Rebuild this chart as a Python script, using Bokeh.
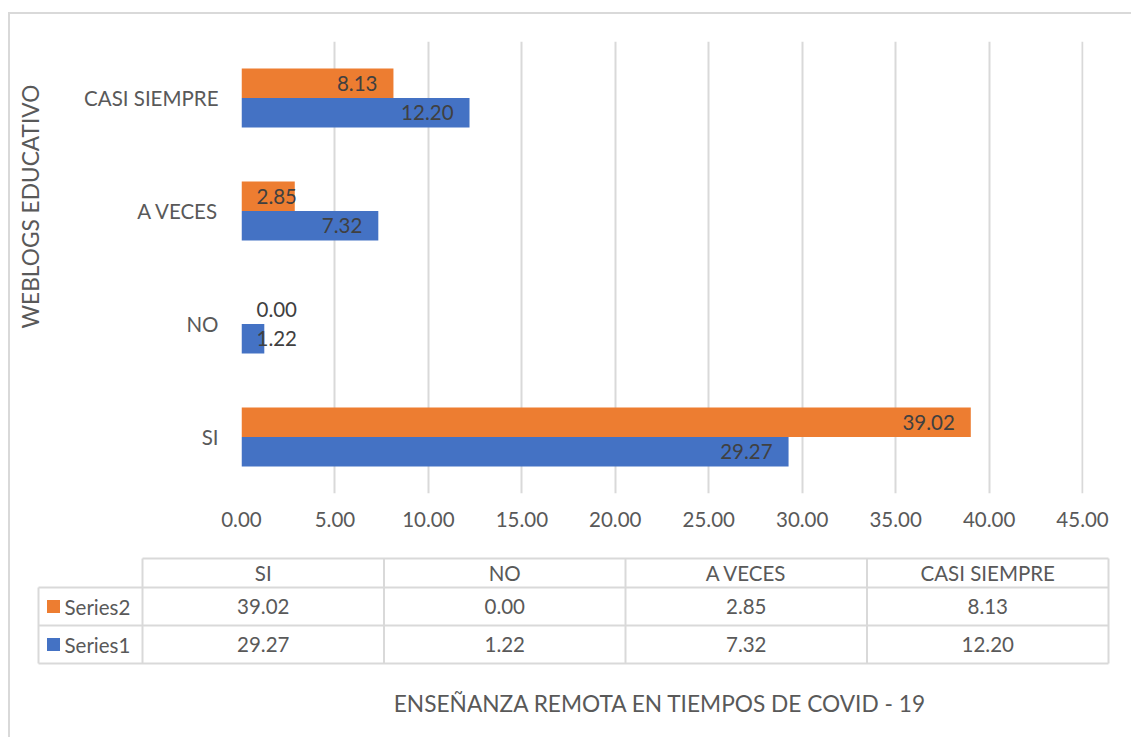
import math
from bokeh.plotting import figure
from bokeh.models import ColumnDataSource, FixedTicker, NumeralTickFormatter, FactorRange, Range1d
from bokeh.layouts import row
from bokeh.transform import dodge
from bokeh.core.properties import value
from bokeh.embed import file_html
from bokeh.resources import INLINE

categories = ["SI", "NO", "A VECES", "CASI SIEMPRE"]
series1 = [29.27, 1.22, 7.32, 12.20]
series2 = [39.02, 0.00, 2.85, 8.13]
series_names = ["Series1", "Series2"]
x_ticks = [0, 5, 10, 15, 20, 25, 30, 35, 40, 45]
x_title = "ENSEÑANZA REMOTA EN TIEMPOS DE COVID - 19"
y_title = "WEBLOGS EDUCATIVO"

ORANGE = "#ED7D31"
BLUE = "#4472C4"
GRID = "#D9D9D9"
AXTXT = "#595959"
LBLTXT = "#404040"
FONT = "Lato"
FS = "20.5px"
FS_TITLE = "22.7px"

H_TOP = 531
TITLE_W = 60
W_MAIN = 1061
W_ALL = TITLE_W + W_MAIN

# ---------------- y title strip ----------------
ys_fig = figure(width=TITLE_W, height=H_TOP, x_range=Range1d(10, 10 + TITLE_W),
                y_range=Range1d(493, 41), output_backend="svg", toolbar_location=None,
                min_border_left=0, min_border_right=0, min_border_top=27, min_border_bottom=52,
                x_axis_location=None, y_axis_location=None)
ys_fig.outline_line_color = None
ys_fig.grid.grid_line_color = None
ys_fig.text(x=[30], y=[206], text=[y_title], angle=math.pi / 2, text_align="center",
            text_baseline="middle", text_font=value(FONT), text_font_size=FS_TITLE,
            text_color=AXTXT)

# ---------------- chart ----------------
p = figure(width=W_MAIN, height=H_TOP, y_range=FactorRange(*categories, range_padding=0),
           x_range=Range1d(0, 45.05), output_backend="svg", toolbar_location=None,
           min_border_left=171, min_border_right=48, min_border_top=27, min_border_bottom=52)
p.outline_line_color = None
p.ygrid.grid_line_color = None
p.xgrid.grid_line_color = GRID
p.xgrid.grid_line_width = 2

src = ColumnDataSource(dict(cat=categories, s1=series1, s2=series2))
p.hbar(y=dodge("cat", 0.13, range=p.y_range), right="s2", left=0, height=0.26, source=src,
       fill_color=ORANGE, line_color=None)
p.hbar(y=dodge("cat", -0.13, range=p.y_range), right="s1", left=0, height=0.26, source=src,
       fill_color=BLUE, line_color=None)

# data labels: inside end, or near the base when the bar is too short
for vals, off in ((series2, 0.13), (series1, -0.13)):
    big = [i for i, v in enumerate(vals) if v >= 4]
    small = [i for i, v in enumerate(vals) if v < 4]
    sb = ColumnDataSource(dict(cat=[categories[i] for i in big], x=[vals[i] for i in big],
                               t=[f"{vals[i]:.2f}" for i in big]))
    ss = ColumnDataSource(dict(cat=[categories[i] for i in small], x=[0 for i in small],
                               t=[f"{vals[i]:.2f}" for i in small]))
    p.text(x="x", y=dodge("cat", off, range=p.y_range), text="t", source=sb, text_align="right",
           text_baseline="middle", x_offset=-16, text_font=value(FONT), text_font_size=FS,
           text_color=LBLTXT)
    p.text(x="x", y=dodge("cat", off, range=p.y_range), text="t", source=ss, text_align="left",
           text_baseline="middle", x_offset=15, text_font=value(FONT), text_font_size=FS,
           text_color=LBLTXT)

p.xaxis.ticker = FixedTicker(ticks=x_ticks)
p.xaxis.formatter = NumeralTickFormatter(format="0.00")
for ax in (p.xaxis[0], p.yaxis[0]):
    ax.axis_line_color = None
    ax.major_tick_line_color = None
    ax.minor_tick_line_color = None
    ax.major_tick_out = 0
    ax.minor_tick_out = 0
    ax.major_label_text_font = FONT
    ax.major_label_text_font_size = FS
    ax.major_label_text_color = AXTXT
p.xaxis.major_label_standoff = 18
p.yaxis.major_label_standoff = 23

top = row(ys_fig, p, spacing=0, margin=(12, 0, 0, 8),
          styles={"border-top": "2px solid #D9D9D9", "border-left": "2px solid #D9D9D9"})

# ---------------- data table ----------------
t = figure(width=W_ALL, height=192, x_range=Range1d(10, 10 + W_ALL), y_range=Range1d(545 + 192, 545),
           output_backend="svg", toolbar_location=None, min_border=0,
           x_axis_location=None, y_axis_location=None)
t.outline_line_color = None
t.grid.grid_line_color = None
t.margin = (0, 0, 0, 8)
t.styles = {"border-left": "2px solid #D9D9D9"}

leg_left, col0, colw = 38, 142, 241.5
y_head, y_r2, y_r1, y_end = 558, 587, 625, 663
ncol = len(categories)
col_right = col0 + ncol * colw

x0s = [col0, leg_left, leg_left, leg_left]
x1s = [col_right] * 4
ys = [y_head, y_r2, y_r1, y_end]
t.segment(x0=x0s, y0=ys, x1=x1s, y1=ys, line_color=GRID, line_width=2)
vx = [col0 + i * colw for i in range(ncol + 1)]
t.segment(x0=vx, y0=[y_head] * len(vx), x1=vx, y1=[y_end] * len(vx), line_color=GRID, line_width=2)
t.segment(x0=[leg_left], y0=[y_r2], x1=[leg_left], y1=[y_end], line_color=GRID, line_width=2)

centers = [col0 + (i + 0.5) * colw for i in range(ncol)]
tf = dict(text_font=value(FONT), text_font_size=FS, text_color=AXTXT, text_baseline="middle")
t.text(x=centers, y=[(y_head + y_r2) / 2] * ncol, text=categories, text_align="center", **tf)
t.text(x=centers, y=[(y_r2 + y_r1) / 2] * ncol, text=[f"{v:.2f}" for v in series2],
       text_align="center", **tf)
t.text(x=centers, y=[(y_r1 + y_end) / 2] * ncol, text=[f"{v:.2f}" for v in series1],
       text_align="center", **tf)
# legend keys
rows_y = [(y_r2 + y_r1) / 2, (y_r1 + y_end) / 2]
t.rect(x=[53, 53], y=rows_y, width=13, height=13, fill_color=[ORANGE, BLUE], line_color=None)
t.text(x=[64, 64], y=rows_y, text=[series_names[1], series_names[0]], text_align="left", **tf)
# x axis title
tf2 = dict(tf, text_font_size=FS_TITLE)
t.text(x=[660], y=[703], text=[x_title], text_align="center", **tf2)

open("out.html", "w").write(file_html([top, t], INLINE))
